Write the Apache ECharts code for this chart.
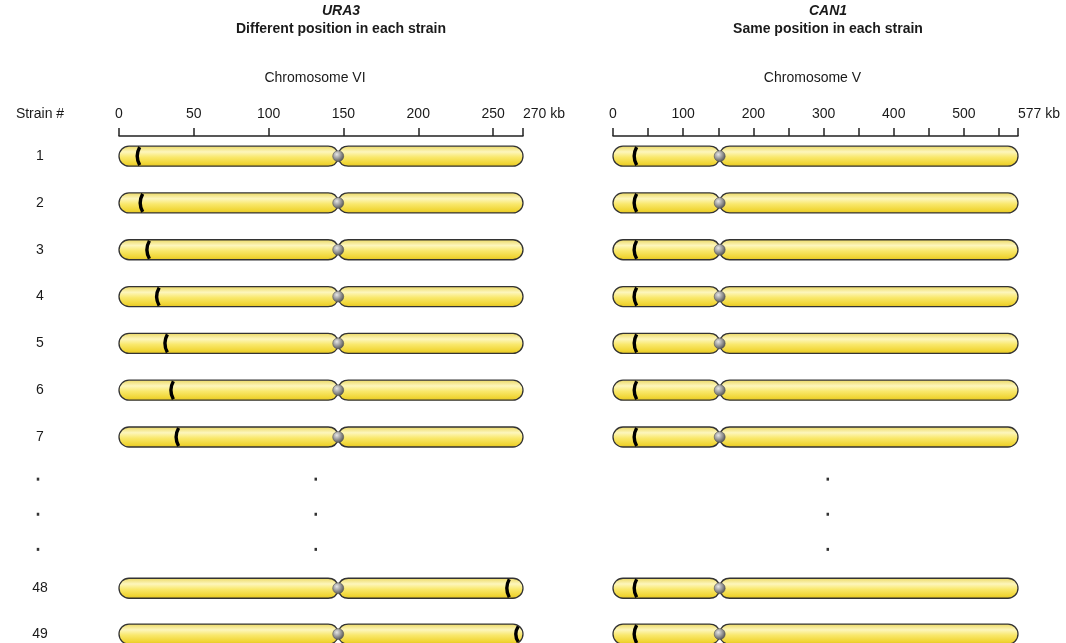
<!DOCTYPE html>
<html><head><meta charset="utf-8">
<script src="https://cdn.jsdelivr.net/npm/echarts@6/dist/echarts.min.js"></script>
<style>html,body{margin:0;padding:0;background:#fff}#c{width:1066px;height:643px}</style>
</head><body><div id="c"></div>
<script>
// ================= DATA =================
const strainLabels = ['1', '2', '3', '4', '5', '6', '7', '48', '49'];
// URA3 insertion position (kb) on chromosome VI in each strain
const ura3Kb = [13.5, 15.5, 20, 26.5, 32, 36, 39.5, 260.5, 266.5];
// CAN1 position (kb) on chromosome V in each strain
const can1Kb = [33, 33, 33, 33, 33, 33, 33, 33, 33];
const chrVILengthKb = 270;
const chrVICentromereKb = 146.5;
const chrVLengthKb = 577;
const chrVCentromereKb = 152;
const chrVITickValues = [0, 50, 100, 150, 200, 250, 270];
const chrVLabelValues = [0, 100, 200, 300, 400, 500, 577];
const panelGenes = ['URA3', 'CAN1'];
const panelSubtitles = ['Different position in each strain', 'Same position in each strain'];
const chromosomeNames = ['Chromosome VI', 'Chromosome V'];
const strainHeader = 'Strain #';
const unit = 'kb';

// ================= LAYOUT =================
const rowSlots = [0, 1, 2, 3, 4, 5, 6, 9.23, 10.21];
const ellipsisSlots = [6.9, 7.65, 8.4];
const ellipsisX = [38, 131.5, 306]; // strain column px, chr VI kb, chr V kb
const FONT = '"Liberation Sans", Arial, sans-serif';
const TXT = '#1a1a1a';
const R = 10;

const chromFill = new echarts.graphic.LinearGradient(0, 0, 0, 1, [
  {offset: 0, color: '#ead65c'},
  {offset: 0.3, color: '#fdf6bc'},
  {offset: 0.55, color: '#f9e86c'},
  {offset: 0.85, color: '#f0d534'},
  {offset: 1, color: '#dfc022'}
]);
const cenFill = new echarts.graphic.RadialGradient(0.38, 0.35, 0.7, [
  {offset: 0, color: '#e6e6e6'},
  {offset: 0.6, color: '#8a8a8a'},
  {offset: 1, color: '#4a4a4a'}
]);

function chromRenderer(lengthKb, cenKb) {
  return function (params, api) {
    const slot = api.value(0), gene = api.value(1);
    const p0 = api.coord([0, slot]);
    const p1 = api.coord([lengthKb, slot]);
    const pc = api.coord([cenKb, slot]);
    const pg = api.coord([gene, slot]);
    const x0 = p0[0], x1 = p1[0], cx = pc[0], y = p0[1];
    const top = y - R, bot = y + R, k = 10, w = 2;
    const d = `M ${x0 + R} ${top} L ${cx - k} ${top} Q ${cx - 2} ${top} ${cx} ${y - w} Q ${cx + 2} ${top} ${cx + k} ${top} ` +
      `L ${x1 - R} ${top} A ${R} ${R} 0 0 1 ${x1 - R} ${bot} L ${cx + k} ${bot} Q ${cx + 2} ${bot} ${cx} ${y + w} ` +
      `Q ${cx - 2} ${bot} ${cx - k} ${bot} L ${x0 + R} ${bot} A ${R} ${R} 0 0 1 ${x0 + R} ${top} Z`;
    const gx = pg[0];
    let hh = R;
    if (gx > x1 - R) hh = Math.sqrt(Math.max(0, R * R - Math.pow(gx - (x1 - R), 2)));
    if (gx < x0 + R) hh = Math.sqrt(Math.max(0, R * R - Math.pow((x0 + R) - gx, 2)));
    const mk = `M ${gx + 0.5} ${y - hh + 1} Q ${gx - 4.5} ${y} ${gx + 0.5} ${y + hh - 1}`;
    return {
      type: 'group',
      children: [
        {type: 'path', shape: {pathData: d}, style: {fill: chromFill, stroke: '#333', lineWidth: 1.3}},
        {type: 'path', shape: {pathData: mk}, style: {fill: null, stroke: '#000', lineWidth: 3.4}},
        {type: 'circle', shape: {cx: cx, cy: y, r: 5.5}, style: {fill: cenFill, stroke: '#555', lineWidth: 0.6}}
      ]
    };
  };
}

const chart = echarts.init(document.getElementById('c'), null, {renderer: 'canvas'});

const axisCommon = {
  type: 'value', position: 'top', interval: 50,
  axisLine: {show: true, onZero: false, lineStyle: {color: '#222', width: 1.5}},
  axisTick: {show: true, length: 8, lineStyle: {color: '#222', width: 1.5}},
  splitLine: {show: false},
  nameLocation: 'middle', nameGap: 51
};

const option = {
  animation: false,
  backgroundColor: '#fff',
  title: [0, 1].map(i => ({
    text: panelGenes[i],
    subtext: panelSubtitles[i],
    left: i === 0 ? 341 : 828,
    top: 4,
    textAlign: 'center',
    padding: 0,
    itemGap: 4,
    textStyle: {fontFamily: FONT, fontSize: 14, fontWeight: 'bold', fontStyle: 'italic', color: TXT},
    subtextStyle: {fontFamily: FONT, fontSize: 14, fontWeight: 'bold', color: TXT}
  })),
  grid: [
    {left: 119, top: 136, width: 404, height: 507},
    {left: 613, top: 136, width: 405, height: 507},
    {left: 0, top: 136, width: 80, height: 507}
  ],
  xAxis: [
    Object.assign({}, axisCommon, {
      gridIndex: 0, min: 0, max: chrVILengthKb,
      axisLabel: {
        fontFamily: FONT, fontSize: 14, color: TXT, margin: 15, alignMaxLabel: 'left',
        formatter: (v) => chrVITickValues.indexOf(v) < 0 ? '' : (v === chrVILengthKb ? v + ' ' + unit : String(v))
      },
      name: chromosomeNames[0],
      nameTextStyle: {fontFamily: FONT, fontSize: 14, color: TXT, padding: [0, 12, 0, 0]}
    }),
    Object.assign({}, axisCommon, {
      gridIndex: 1, min: 0, max: chrVLengthKb,
      axisLabel: {
        fontFamily: FONT, fontSize: 14, color: TXT, margin: 15, alignMaxLabel: 'left',
        formatter: (v) => chrVLabelValues.indexOf(v) < 0 ? '' : (v === chrVLengthKb ? v + ' ' + unit : String(v))
      },
      name: chromosomeNames[1],
      nameTextStyle: {fontFamily: FONT, fontSize: 14, color: TXT, padding: [0, 6, 0, 0]}
    }),
    {
      gridIndex: 2, type: 'value', position: 'top', min: 0, max: 80,
      axisLine: {show: false}, axisTick: {show: false}, axisLabel: {show: false}, splitLine: {show: false},
      name: strainHeader, nameLocation: 'middle', nameGap: 15,
      nameTextStyle: {fontFamily: FONT, fontSize: 14, color: TXT}
    }
  ],
  yAxis: [0, 1, 2].map(g => ({
    gridIndex: g, type: 'value', inverse: true, min: -0.43, max: 10.4, show: false
  })),
  series: [
    {
      type: 'custom', xAxisIndex: 0, yAxisIndex: 0, clip: false,
      renderItem: chromRenderer(chrVILengthKb, chrVICentromereKb),
      data: rowSlots.map((s, i) => [s, ura3Kb[i]])
    },
    {
      type: 'custom', xAxisIndex: 1, yAxisIndex: 1, clip: false,
      renderItem: chromRenderer(chrVLengthKb, chrVCentromereKb),
      data: rowSlots.map((s, i) => [s, can1Kb[i]])
    },
    {
      type: 'custom', xAxisIndex: 2, yAxisIndex: 2, clip: false,
      renderItem: function (params, api) {
        const p = api.coord([40, api.value(0)]);
        return {type: 'text', x: p[0], y: p[1],
          style: {text: strainLabels[params.dataIndex], font: '14px ' + FONT, fill: TXT, align: 'center', verticalAlign: 'middle'}};
      },
      data: rowSlots.map(s => [s])
    },
    ...[0, 1, 2].map(g => ({
      type: 'scatter', xAxisIndex: g, yAxisIndex: g, symbol: 'rect', symbolSize: [2.5, 3],
      itemStyle: {color: '#000'}, silent: true,
      data: ellipsisSlots.map(s => [ellipsisX[g === 2 ? 0 : g + 1], s])
    }))
  ]
};
chart.setOption(option);
</script>
</body></html>
